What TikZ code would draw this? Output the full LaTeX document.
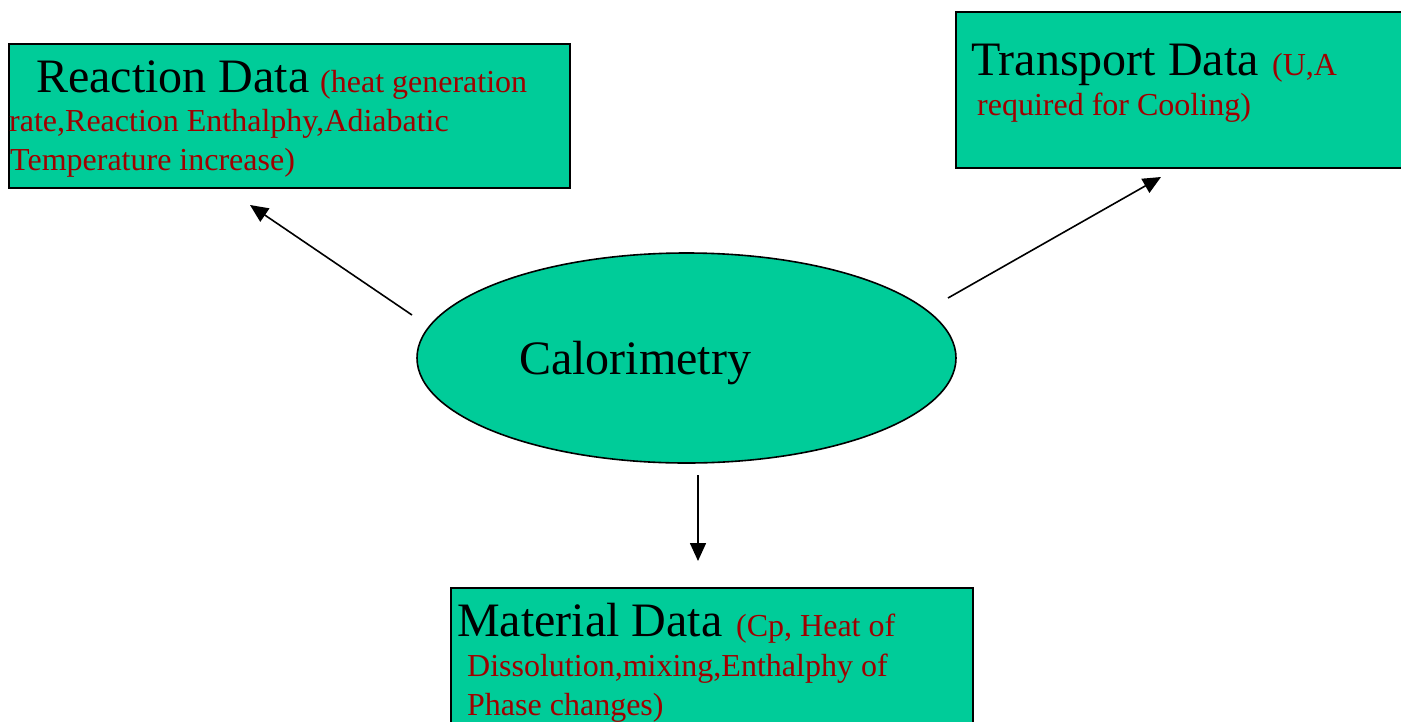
\documentclass[tikz,border=0pt]{standalone}
\usepackage{fontspec}
\setmainfont{Liberation Serif}
\usetikzlibrary{arrows.meta,shapes.geometric}
\definecolor{boxgreen}{RGB}{0,204,153}
\definecolor{darkred}{RGB}{160,0,0}
\tikzset{
  databox/.style={draw=black, line width=2pt, fill=boxgreen, inner sep=0pt, anchor=north west},
  bigtxt/.style={anchor=base west, inner sep=0pt, font=\fontsize{48}{50}\selectfont, text=black},
  redtxt/.style={anchor=base west, inner sep=0pt, font=\fontsize{32}{40}\selectfont, text=darkred},
  conn/.style={line width=1.6pt, -{Triangle[length=18pt,width=16pt]}}
}
\begin{document}
\begin{tikzpicture}[x=1pt,y=-1pt]
\useasboundingbox (0,0) rectangle (1401,721);
% boxes
\node[databox, minimum width=561pt, minimum height=144pt] (reac) at (8,43) {};
\node[databox, minimum width=460pt, minimum height=156pt] (trans) at (955,11) {};
\node[databox, minimum width=522pt, minimum height=150pt] (mat) at (450,587) {};
\node[draw=black, line width=1.6pt, fill=boxgreen, ellipse, minimum width=539pt, minimum height=210pt, inner sep=0pt] (cal) at (686.5,358) {};
% texts
\node[bigtxt] (reacT) at (36,92) {Reaction Data};
\node[redtxt] (reacR1) at (320,92) {(heat generation};
\node[redtxt] (reacR2) at (9,131) {rate,Reaction Enthalphy,Adiabatic};
\node[redtxt] (reacR3) at (10,170) {Temperature increase)};
\node[bigtxt] (transT) at (971,75) {Transport Data};
\node[redtxt] (transR1) at (1272,75) {(U,A};
\node[redtxt] (transR2) at (977,115) {required for Cooling)};
\node[bigtxt] (calT) at (519,374) {Calorimetry};
\node[bigtxt] (matT) at (457,636) {Material Data};
\node[redtxt] (matR1) at (736,636) {(Cp, Heat of};
\node[redtxt] (matR2) at (467,676) {Dissolution,mixing,Enthalphy of};
\node[redtxt] (matR3) at (467,715) {Phase changes)};
% connectors
\coordinate (a1s) at (412,315);
\coordinate (a1e) at (250,205);
\coordinate (a2s) at (948,298);
\coordinate (a2e) at (1161,177);
\coordinate (a3s) at (698,475);
\coordinate (a3e) at (698,561);
\draw[conn] (a1s) -- (a1e);
\draw[conn] (a2s) -- (a2e);
\draw[conn] (a3s) -- (a3e);
\end{tikzpicture}
\end{document}
